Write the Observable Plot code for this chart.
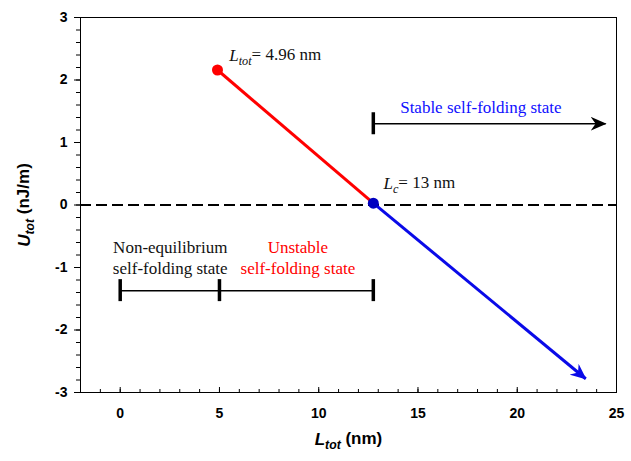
<!DOCTYPE html>
<html>
<head>
<meta charset="utf-8">
<script src="https://cdn.jsdelivr.net/npm/d3@7"></script>
<script src="https://cdn.jsdelivr.net/npm/@observablehq/plot@0.6"></script>
<style>
  html, body { margin: 0; padding: 0; background: #fff; }
</style>
</head>
<body>
<div id="chart"></div>
<script>
// ---- data ----
const xMajor = [0, 5, 10, 15, 20, 25];
const xMinor = d3.range(-2, 26, 1);
const yMajor = [-3, -2, -1, 0, 1, 2, 3];
const yMinor = d3.range(-3, 3.0001, 0.2);

const redSegment = [{x1: 4.9, y1: 2.16, x2: 12.75, y2: 0.03}];
const blueSegment = [{x1: 12.75, y1: 0.03, x2: 23.45, y2: -2.78}];
const stableArrow = [{x1: 12.75, y1: 1.3, x2: 24.45, y2: 1.3}];
const intervalLine = [{x1: 0, x2: 12.75, y: -1.37}];
const caps = [{x: 0, y: -1.37}, {x: 5, y: -1.37}, {x: 12.75, y: -1.37}, {x: 12.75, y: 1.3}];
const startPoint = [{x: 4.9, y: 2.16}];
const criticalPoint = [{x: 12.75, y: 0.03}];

const richLabels = [
  {x: 5.49, y: 2.39, main: "L", sub: "tot", rest: "= 4.96 nm"},
  {x: 13.26, y: 0.34, main: "L", sub: "c", rest: "= 13 nm"}
];
const blackNotes = [{x: 2.52, y: -0.83, text: "Non-equilibrium\nself-folding state"}];
const redNotes = [{x: 8.95, y: -0.83, text: "Unstable\nself-folding state"}];
const blueNotes = [{x: 18.17, y: 1.56, text: "Stable self-folding state"}];

const xTitle = {main: "L", sub: "tot", rest: " (nm)"};
const yTitle = {main: "U", sub: "tot", rest: " (nJ/m)"};

const serif = "Liberation Serif, Times New Roman, serif";
const sans = "Liberation Sans, Arial, sans-serif";
const fmt = d => String(d);

const chart = Plot.plot({
  width: 631,
  height: 461,
  marginLeft: 80,
  marginRight: 15,
  marginTop: 17,
  marginBottom: 69,
  style: {fontFamily: sans, background: "#fff", color: "#000"},
  x: {domain: [-2, 25]},
  y: {domain: [-3, 3]},
  marks: [
    Plot.frame({stroke: "#000", strokeWidth: 1}),
    // x axis: labels + inward ticks
    Plot.axisX({ticks: xMajor, tickFormat: fmt, tickSize: 0, tickPadding: 16, fontSize: 14, fontWeight: "bold", label: null}),
    Plot.ruleX(xMinor, {y1: -3, y2: -3, insetTop: -3, stroke: "#000"}),
    Plot.ruleX(xMajor, {y1: -3, y2: -3, insetTop: -5, stroke: "#000"}),
    // y axis: outward ticks
    Plot.axisY({ticks: yMajor, tickFormat: fmt, tickSize: 6, tickPadding: 7, fontSize: 14, fontWeight: "bold", label: null}),
    Plot.axisY({ticks: yMinor, tickSize: 4, text: null, label: null}),
    // axis titles
    Plot.text([xTitle], {frameAnchor: "bottom", dy: 47, lineAnchor: "middle", textAnchor: "middle", text: d => d.main + d.sub + d.rest, fontSize: 17, fontWeight: "bold", ariaDescription: "xtitle"}),
    Plot.text([yTitle], {frameAnchor: "left", dx: -56, rotate: -90, textAnchor: "middle", lineAnchor: "middle", text: d => d.main + d.sub + d.rest, fontSize: 17, fontWeight: "bold", ariaDescription: "ytitle"}),
    // zero line
    Plot.ruleY([0], {stroke: "#000", strokeWidth: 2, strokeDasharray: "11,5"}),
    // interval bars
    Plot.link(intervalLine, {x1: "x1", x2: "x2", y1: "y", y2: "y", stroke: "#000", strokeWidth: 1.5}),
    Plot.link(stableArrow, {x1: "x1", x2: "x2", y1: "y1", y2: "y2", stroke: "#000", strokeWidth: 1.5, ariaDescription: "arrow-black"}),
    Plot.ruleX(caps, {x: "x", y1: "y", y2: "y", insetTop: -11, insetBottom: -11, stroke: "#000", strokeWidth: 3.5}),
    // energy lines
    Plot.link(redSegment, {x1: "x1", y1: "y1", x2: "x2", y2: "y2", stroke: "#ff0000", strokeWidth: 3}),
    Plot.link(blueSegment, {x1: "x1", y1: "y1", x2: "x2", y2: "y2", stroke: "#0a0ae8", strokeWidth: 3, ariaDescription: "arrow-blue"}),
    Plot.dot(startPoint, {x: "x", y: "y", r: 5.5, fill: "#ff0000"}),
    Plot.dot(criticalPoint, {x: "x", y: "y", r: 5.5, fill: "#0000c0"}),
    // annotations
    Plot.text(richLabels, {x: "x", y: "y", text: d => d.main + d.sub + d.rest, textAnchor: "start", fontFamily: serif, fontSize: 17, fill: "#111", ariaDescription: "rich"}),
    Plot.text(blackNotes, {x: "x", y: "y", text: "text", fontFamily: serif, fontSize: 17, lineHeight: 1.24, fill: "#111"}),
    Plot.text(redNotes, {x: "x", y: "y", text: "text", fontFamily: serif, fontSize: 17, lineHeight: 1.24, fill: "#ff0000"}),
    Plot.text(blueNotes, {x: "x", y: "y", text: "text", fontFamily: serif, fontSize: 17, fill: "#1010ff"})
  ]
});

document.getElementById("chart").appendChild(chart);

// ---- post-processing: subscripts and arrowheads ----
const svgNode = chart.tagName.toLowerCase() === "svg" ? chart : chart.querySelector("svg");
const svg = d3.select(svgNode);

function findGroup(desc) {
  return svg.selectAll("g").filter(function() {
    return this.getAttribute("aria-description") === desc;
  });
}

function richify(group, items) {
  group.selectAll("text").each(function(_, i) {
    const d = items[i];
    if (!d) return;
    const t = d3.select(this);
    t.text(null);
    t.append("tspan").attr("font-style", "italic").text(d.main);
    t.append("tspan").attr("font-style", "italic").attr("font-size", "0.72em").attr("dy", "0.3em").text(d.sub);
    t.append("tspan").attr("dy", "-0.3em").text(d.rest);
  });
}
richify(findGroup("rich"), richLabels);
richify(findGroup("xtitle"), [xTitle]);
richify(findGroup("ytitle"), [yTitle]);

const defs = svg.insert("defs", ":first-child");
function addMarker(id, color) {
  defs.append("marker")
    .attr("id", id)
    .attr("markerUnits", "userSpaceOnUse")
    .attr("viewBox", "0 0 16 14")
    .attr("markerWidth", 16)
    .attr("markerHeight", 14)
    .attr("refX", 15)
    .attr("refY", 7)
    .attr("orient", "auto")
    .append("path")
    .attr("d", "M0,0 L16,7 L0,14 L5,7 Z")
    .attr("fill", color);
}
addMarker("head-black", "#000");
addMarker("head-blue", "#0a0ae8");
findGroup("arrow-black").selectAll("path,line").attr("marker-end", "url(#head-black)");
findGroup("arrow-blue").selectAll("path,line").attr("marker-end", "url(#head-blue)");
</script>
</body>
</html>
